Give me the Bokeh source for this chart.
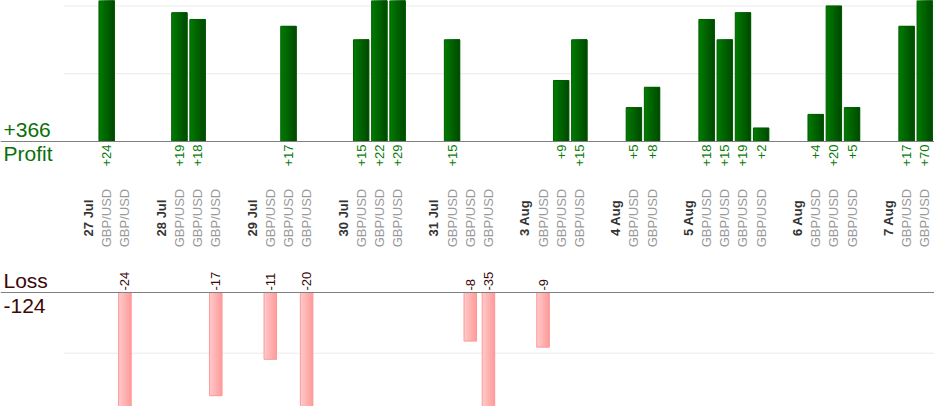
import math
from bokeh.plotting import figure
from bokeh.models import Range1d, Span
from bokeh.core.properties import value
from bokeh.embed import file_html
from bokeh.resources import INLINE

# ---------------- data ----------------
dates = ["27 Jul", "28 Jul", "29 Jul", "30 Jul", "31 Jul",
         "3 Aug", "4 Aug", "5 Aug", "6 Aug", "7 Aug"]
pair = "GBP/USD"
day_results = [
    [24, -24],
    [19, 18, -17],
    [-11, 17, -20],
    [15, 22, 29],
    [15, -8, -35],
    [-9, 9, 15],
    [5, 8],
    [18, 15, 19, 2],
    [4, 20, 5],
    [17, 70],
]
profit_grid = [10, 20]
loss_grid = [-10]

# ---------------- slots ----------------
date_x, trade_x, trade_v = [], [], []
pos = 0
for d, res in zip(dates, day_results):
    date_x.append(pos + 1)
    for i, r in enumerate(res):
        trade_x.append(pos + 2 + i)
        trade_v.append(r)
    pos = pos + 2 + len(res)

win_x = [x for x, v in zip(trade_x, trade_v) if v > 0]
win_v = [v for v in trade_v if v > 0]
lose_x = [x for x, v in zip(trade_x, trade_v) if v < 0]
lose_v = [v for v in trade_v if v < 0]
total_profit = sum(win_v)
total_loss = sum(lose_v)

# ---------------- geometry ----------------
W, H = 934, 406
PX = 18.18            # px per slot
first_slot_page = 88.0
x_start = 1 - first_slot_page / PX
x_end = x_start + W / PX

KP, BASE_P = 6.78, 141.0   # profit px/unit, baseline y
KL, BASE_L = 6.07, 292.0   # loss px/unit, baseline y

p = figure(width=W, height=H, output_backend="svg", toolbar_location=None,
           x_range=Range1d(x_start, x_end),
           y_range=Range1d((BASE_P - H) / KP, BASE_P / KP),
           x_axis_location=None, y_axis_location=None, min_border=0,
           outline_line_color=None, background_fill_color="white",
           border_fill_color="white")
p.extra_y_ranges = {"loss": Range1d((BASE_L - H) / KL, BASE_L / KL)}
p.xgrid.visible = False
p.ygrid.visible = False

FONT = value("Liberation Sans")
grid_x0 = x_start + 63 / PX

# grid lines
p.segment(x0=[grid_x0] * len(profit_grid), x1=[x_end] * len(profit_grid),
          y0=profit_grid, y1=profit_grid, line_color="#ebebeb", line_width=1)
p.segment(x0=[grid_x0] * len(loss_grid), x1=[x_end] * len(loss_grid),
          y0=loss_grid, y1=loss_grid, line_color="#ebebeb", line_width=1,
          y_range_name="loss")


def lerp_color(c0, c1, t):
    a = [int(c0[i:i + 2], 16) for i in (1, 3, 5)]
    b = [int(c1[i:i + 2], 16) for i in (1, 3, 5)]
    return "#" + "".join(f"{round(a[k] + (b[k] - a[k]) * t):02x}" for k in range(3))


def gradient_bars(xs, tops, bottoms, width, c0, c1, edge, n=6, **kw):
    # layered fills: each layer runs from its own left edge to the bar's right edge
    for j in range(n):
        left = -width / 2 + width * j / n
        w = width / 2 - left
        off = left + w / 2
        p.vbar(x=[x + off for x in xs], top=tops, bottom=bottoms, width=w,
               fill_color=lerp_color(c0, c1, j / (n - 1)), line_color=None, **kw)
    p.vbar(x=xs, top=tops, bottom=bottoms, width=width, fill_color=None,
           line_color=edge, line_width=1, **kw)


# bars
gradient_bars(win_x, win_v, [0] * len(win_v), 0.85, "#007800", "#004c00", "#005c00")
gradient_bars(lose_x, [0] * len(lose_v), lose_v, 0.69, "#ffc6c6", "#ff9e9e", "#ff9a9a",
              y_range_name="loss")

# baselines
p.add_layout(Span(location=0, dimension="width", line_color="#808080", line_width=1.2))
p.add_layout(Span(location=0, dimension="width", line_color="#808080", line_width=1.2,
                  y_range_name="loss"))

# value labels
p.text(x=win_x, y=[-3.0 / KP] * len(win_x), text=[f"+{v}" for v in win_v],
       angle=math.pi / 2, text_align="right", text_baseline="middle",
       text_font=FONT, text_font_size="13px", text_color="#0a7a0a")
p.text(x=lose_x, y=[2.0 / KL] * len(lose_x), text=[f"{v}" for v in lose_v],
       angle=math.pi / 2, text_align="left", text_baseline="middle",
       text_font=FONT, text_font_size="13px", text_color="#3a0a0a",
       y_range_name="loss")

# category labels
cat_y = (BASE_P - 217.5) / KP
p.text(x=date_x, y=[cat_y] * len(date_x), text=dates,
       angle=math.pi / 2, text_align="center", text_baseline="middle",
       text_font=FONT, text_font_size="13px", text_font_style="bold",
       text_color="#333333")
p.text(x=trade_x, y=[cat_y] * len(trade_x), text=[pair] * len(trade_x),
       angle=math.pi / 2, text_align="center", text_baseline="middle",
       text_font=FONT, text_font_size="13px", text_color="#999999")

# totals
lx = x_start + 3.0 / PX
p.text(x=[lx, lx], y=[(BASE_P - 129) / KP, (BASE_P - 153) / KP],
       text=[f"+{total_profit}", "Profit"], text_align="left",
       text_baseline="alphabetic", text_font=FONT, text_font_size="21px",
       text_color="#0a700a")
p.text(x=[lx, lx], y=[(BASE_L - 279.5) / KL, (BASE_L - 305.5) / KL],
       text=["Loss", f"{total_loss}"], text_align="left",
       text_baseline="alphabetic", text_font=FONT, text_font_size="21px",
       text_color="#3a0808", y_range_name="loss")

open("out.html", "w").write(file_html(p, INLINE))
